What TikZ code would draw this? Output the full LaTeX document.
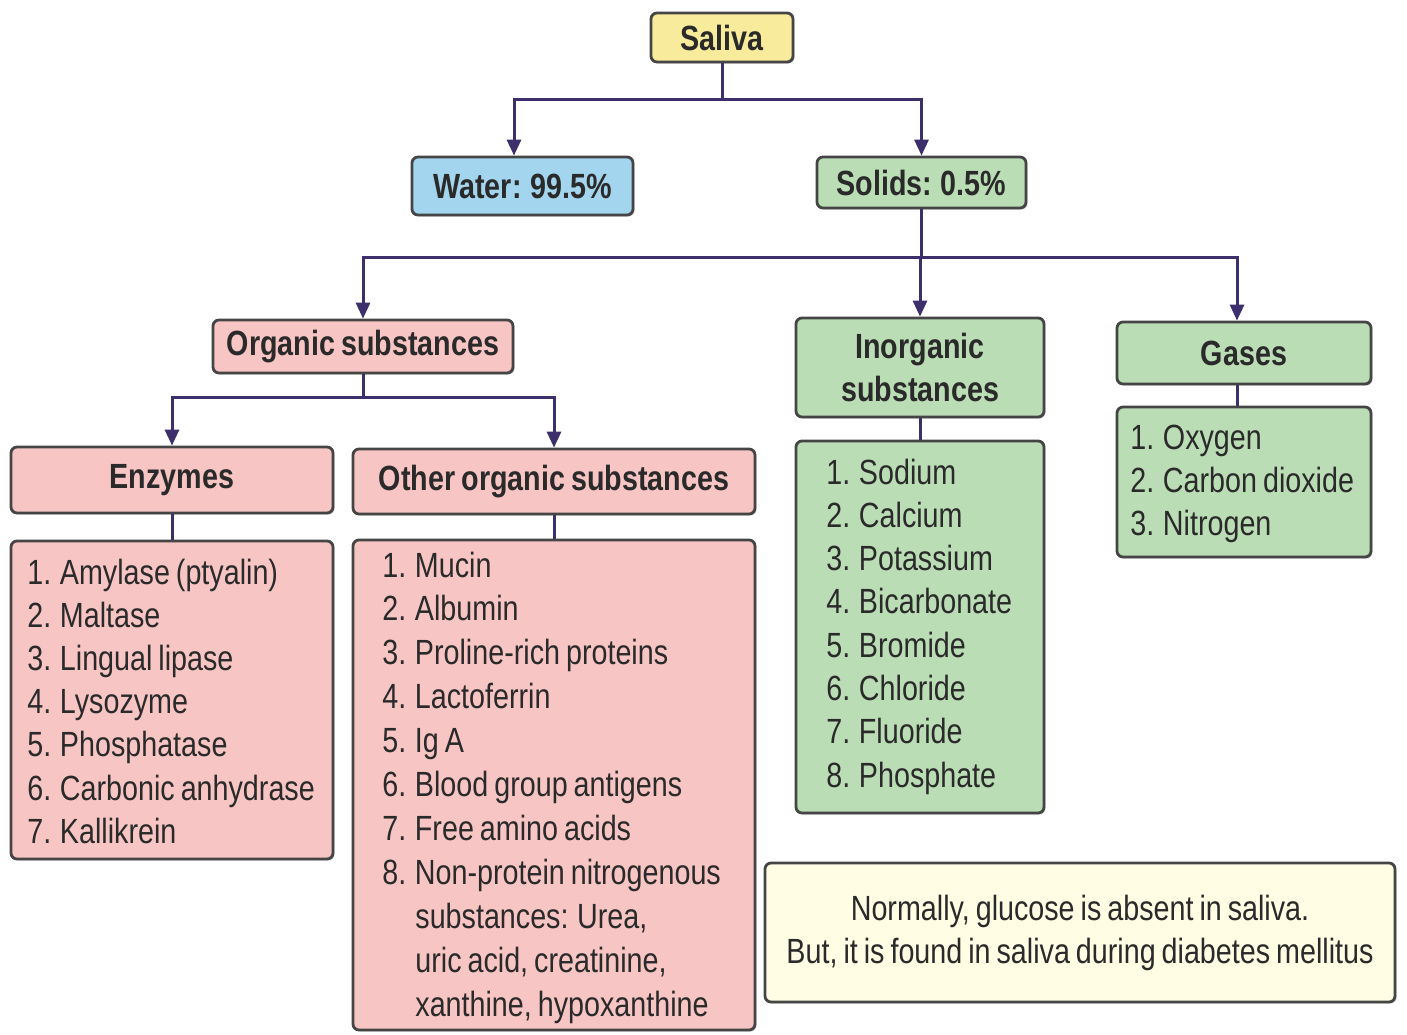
\documentclass[tikz,border=0pt]{standalone}
\usepackage{fontspec}
\setmainfont{Liberation Sans}[FakeStretch=0.82,WordSpace=0.75]
\usetikzlibrary{arrows.meta,shadows}
\definecolor{cyel}{HTML}{F8EB9C}
\definecolor{cblue}{HTML}{A3D5EE}
\definecolor{cgreen}{HTML}{BBDDB5}
\definecolor{cpink}{HTML}{F7C5C3}
\definecolor{cnote}{HTML}{FFFDE3}
\definecolor{cline}{HTML}{3C2F6B}
\definecolor{cbord}{HTML}{454545}
\definecolor{ctext}{HTML}{2A2A2A}
\begin{document}
\begin{tikzpicture}[x=0.5pt,y=-0.5pt,
  box/.style={draw=cbord, line width=1.4pt, rounded corners=3pt, inner sep=0pt,
    drop shadow={shadow xshift=0.8pt, shadow yshift=-0.8pt, opacity=0.35},
    text=ctext, font=\fontsize{17.5}{21.5}\selectfont\bfseries, align=center},
  item/.style={inner sep=0pt, anchor=base west, text=ctext, font=\fontsize{17.5}{21.5}\selectfont},
  link/.style={draw=cline, line width=1.5pt},
  arr/.style={link, -{Triangle[length=8pt,width=7pt]}}]
\useasboundingbox[fill=white] (0,0) rectangle (1407,1034);
% boxes
\node[box, fill=cyel, minimum width=71pt, minimum height=24.5pt] (saliva) at (722,37.5) {Saliva};
\node[box, fill=cblue, minimum width=110.5pt, minimum height=29pt] (water) at (522.5,186) {Water: 99.5\%};
\node[box, fill=cgreen, minimum width=104.5pt, minimum height=25.5pt] (solids) at (921.5,182.5) {Solids: 0.5\%};
\node[box, fill=cpink, minimum width=150pt, minimum height=26.5pt] (organic) at (363,346.5) {Organic substances};
\node[box, fill=cgreen, minimum width=124pt, minimum height=49.5pt] (inorg) at (920,367.5) {Inorganic\\substances};
\node[box, fill=cgreen, minimum width=127pt, minimum height=31pt] (gases) at (1244,353) {Gases};
\node[box, fill=cpink, minimum width=161pt, minimum height=33pt] (enz) at (172,480) {Enzymes};
\node[box, fill=cpink, minimum width=201pt, minimum height=32.5pt] (other) at (554,481.5) {Other organic substances};
\node[box, fill=cpink, minimum width=161pt, minimum height=159pt] (enzlist) at (172,700) {};
\node[box, fill=cpink, minimum width=201pt, minimum height=245pt] (otherlist) at (554,785) {};
\node[box, fill=cgreen, minimum width=124pt, minimum height=186pt] (inorglist) at (920,627) {};
\node[box, fill=cgreen, minimum width=127pt, minimum height=75pt] (gaslist) at (1244,482) {};
\node[box, fill=cnote, minimum width=315pt, minimum height=69.5pt, font=\fontsize{17.5}{21.5}\selectfont] (note) at (1080,932.5)
  {Normally, glucose is absent in saliva.\\But, it is found in saliva during diabetes mellitus};
% list items
\foreach \t [count=\i] in {1. Amylase (ptyalin),2. Maltase,3. Lingual lipase,4. Lysozyme,5. Phosphatase,6. Carbonic anhydrase,7. Kallikrein}
  \node[item] (e\i) at (27,584+43.2*\i-43.2) {\t};
\foreach \t [count=\i] in {1. Mucin,2. Albumin,3. Proline-rich proteins,4. Lactoferrin,5. Ig A,6. Blood group antigens,7. Free amino acids,8. Non-protein nitrogenous}
  \node[item] (o\i) at (382,577+43.9*\i-43.9) {\t};
\foreach \t [count=\i from 9] in {{substances: Urea,},{uric acid, creatinine,},{xanthine, hypoxanthine}}
  \node[item] (o\i) at (415,577+43.9*\i-43.9) {\t};
\foreach \t [count=\i] in {1. Sodium,2. Calcium,3. Potassium,4. Bicarbonate,5. Bromide,6. Chloride,7. Fluoride,8. Phosphate}
  \node[item] (n\i) at (826,484+43.3*\i-43.3) {\t};
\foreach \t [count=\i] in {1. Oxygen,2. Carbon dioxide,3. Nitrogen}
  \node[item] (g\i) at (1130,449+43*\i-43) {\t};
% connectors
\coordinate (wx) at (514,0);
\coordinate (gx) at (1237,0);
\draw[link] (saliva.south) -- ++(0,36) coordinate (j1);
\draw[arr] (j1) -| (water.north -| wx);
\draw[arr] (j1) -| (solids.north);
\draw[link] (solids.south) -- ++(0,48) coordinate (j2);
\draw[arr] (j2) -| (organic.north);
\draw[arr] (j2) -| (inorg.north);
\draw[arr] (j2) -| (gases.north -| gx);
\draw[link] (organic.south) -- ++(0,23) coordinate (j3);
\draw[arr] (j3) -| (enz.north);
\draw[arr] (j3) -| (other.north);
\draw[link] (enz.south) -- (enzlist.north);
\draw[link] (other.south) -- (otherlist.north);
\draw[link] (inorg.south) -- (inorglist.north);
\draw[link] (gases.south -| gx) -- (gaslist.north -| gx);
\end{tikzpicture}
\end{document}
